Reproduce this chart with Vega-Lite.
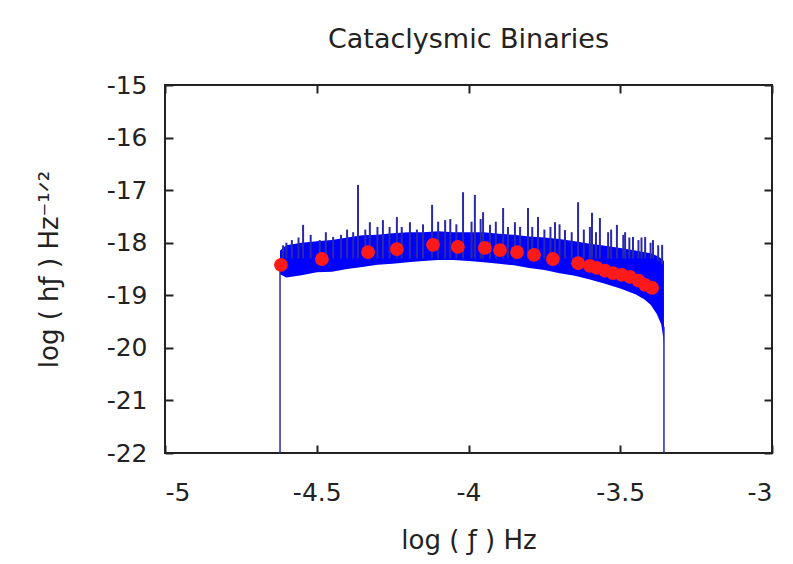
{
  "$schema": "https://vega.github.io/schema/vega-lite/v6.json",
  "width": 607,
  "height": 368,
  "autosize": {"type": "none"},
  "padding": {"left": 165, "top": 85, "right": 21, "bottom": 111},
  "background": "white",
  "title": {"text": "Cataclysmic Binaries", "font": "DejaVu Sans", "fontSize": 27, "fontWeight": "normal", "color": "#222", "offset": 19, "anchor": "middle"},
  "config": {
    "view": {"stroke": "#222", "strokeWidth": 2},
    "axis": {"domain": false, "grid": false, "ticks": true, "tickColor": "#222", "tickWidth": 2, "tickSize": -8,
      "labelFont": "DejaVu Sans", "labelFontSize": 25, "labelColor": "#222",
      "labelExpr": "toString(datum.value)",
      "titleFont": "DejaVu Sans", "titleFontSize": 26, "titleFontWeight": "normal", "titleColor": "#222"}
  },
  "datasets": {
    "band": [
      {"x": -4.621, "hi": -18.15, "lo": -18.6},
      {"x": -4.6, "hi": -18.05, "lo": -18.66},
      {"x": -4.55, "hi": -18.0, "lo": -18.62},
      {"x": -4.5, "hi": -17.97, "lo": -18.56},
      {"x": -4.45, "hi": -17.95, "lo": -18.55},
      {"x": -4.4, "hi": -17.9, "lo": -18.5},
      {"x": -4.35, "hi": -17.86, "lo": -18.46},
      {"x": -4.3, "hi": -17.85, "lo": -18.42},
      {"x": -4.25, "hi": -17.82, "lo": -18.4},
      {"x": -4.2, "hi": -17.8, "lo": -18.37},
      {"x": -4.15, "hi": -17.8, "lo": -18.35},
      {"x": -4.1, "hi": -17.78, "lo": -18.33},
      {"x": -4.05, "hi": -17.8, "lo": -18.33},
      {"x": -4.0, "hi": -17.8, "lo": -18.35},
      {"x": -3.95, "hi": -17.8, "lo": -18.37},
      {"x": -3.9, "hi": -17.83, "lo": -18.4},
      {"x": -3.85, "hi": -17.85, "lo": -18.43},
      {"x": -3.8, "hi": -17.88, "lo": -18.48},
      {"x": -3.75, "hi": -17.9, "lo": -18.52},
      {"x": -3.7, "hi": -17.93, "lo": -18.58},
      {"x": -3.65, "hi": -17.97, "lo": -18.63},
      {"x": -3.6, "hi": -18.02, "lo": -18.7},
      {"x": -3.55, "hi": -18.06, "lo": -18.78},
      {"x": -3.5, "hi": -18.1, "lo": -18.87},
      {"x": -3.45, "hi": -18.15, "lo": -18.98},
      {"x": -3.42, "hi": -18.18, "lo": -19.08},
      {"x": -3.4, "hi": -18.2, "lo": -19.18},
      {"x": -3.38, "hi": -18.25, "lo": -19.35},
      {"x": -3.365, "hi": -18.3, "lo": -19.55},
      {"x": -3.356, "hi": -18.35, "lo": -19.9}
    ],
    "spikes": [
      {"x": -4.611, "top": -18.05, "base": -18.3},
      {"x": -4.6, "top": -18.0, "base": -18.3},
      {"x": -4.582, "top": -17.95, "base": -18.3},
      {"x": -4.56, "top": -17.9, "base": -18.3},
      {"x": -4.545, "top": -17.66, "base": -18.3},
      {"x": -4.52, "top": -17.85, "base": -18.3},
      {"x": -4.49, "top": -17.95, "base": -18.3},
      {"x": -4.47, "top": -17.8, "base": -18.3},
      {"x": -4.446, "top": -17.89, "base": -18.3},
      {"x": -4.42, "top": -17.85, "base": -18.3},
      {"x": -4.4, "top": -17.75, "base": -18.3},
      {"x": -4.38, "top": -17.8, "base": -18.3},
      {"x": -4.364, "top": -16.9, "base": -18.3},
      {"x": -4.34, "top": -17.75, "base": -18.3},
      {"x": -4.325, "top": -17.61, "base": -18.3},
      {"x": -4.3, "top": -17.7, "base": -18.3},
      {"x": -4.282, "top": -17.57, "base": -18.3},
      {"x": -4.26, "top": -17.7, "base": -18.3},
      {"x": -4.236, "top": -17.51, "base": -18.3},
      {"x": -4.22, "top": -17.7, "base": -18.3},
      {"x": -4.193, "top": -17.61, "base": -18.3},
      {"x": -4.17, "top": -17.75, "base": -18.3},
      {"x": -4.15, "top": -17.65, "base": -18.3},
      {"x": -4.12, "top": -17.28, "base": -18.3},
      {"x": -4.1, "top": -17.6, "base": -18.3},
      {"x": -4.077, "top": -17.57, "base": -18.3},
      {"x": -4.06, "top": -17.55, "base": -18.3},
      {"x": -4.04, "top": -17.65, "base": -18.3},
      {"x": -4.018, "top": -17.04, "base": -18.3},
      {"x": -3.99, "top": -17.6, "base": -18.3},
      {"x": -3.979, "top": -17.09, "base": -18.3},
      {"x": -3.96, "top": -17.55, "base": -18.3},
      {"x": -3.952, "top": -17.42, "base": -18.3},
      {"x": -3.929, "top": -17.66, "base": -18.3},
      {"x": -3.91, "top": -17.6, "base": -18.3},
      {"x": -3.886, "top": -17.34, "base": -18.3},
      {"x": -3.87, "top": -17.7, "base": -18.3},
      {"x": -3.847, "top": -17.61, "base": -18.3},
      {"x": -3.83, "top": -17.7, "base": -18.3},
      {"x": -3.804, "top": -17.34, "base": -18.3},
      {"x": -3.79, "top": -17.7, "base": -18.3},
      {"x": -3.771, "top": -17.51, "base": -18.3},
      {"x": -3.75, "top": -17.75, "base": -18.3},
      {"x": -3.73, "top": -17.7, "base": -18.3},
      {"x": -3.715, "top": -17.61, "base": -18.3},
      {"x": -3.7, "top": -17.65, "base": -18.3},
      {"x": -3.682, "top": -17.76, "base": -18.3},
      {"x": -3.66, "top": -17.8, "base": -18.3},
      {"x": -3.639, "top": -17.23, "base": -18.3},
      {"x": -3.62, "top": -17.75, "base": -18.3},
      {"x": -3.6, "top": -17.7, "base": -18.3},
      {"x": -3.593, "top": -17.43, "base": -18.3},
      {"x": -3.58, "top": -17.8, "base": -18.3},
      {"x": -3.567, "top": -17.53, "base": -18.3},
      {"x": -3.54, "top": -17.8, "base": -18.3},
      {"x": -3.53, "top": -17.75, "base": -18.3},
      {"x": -3.511, "top": -17.66, "base": -18.3},
      {"x": -3.49, "top": -17.85, "base": -18.3},
      {"x": -3.484, "top": -17.8, "base": -18.3},
      {"x": -3.47, "top": -17.9, "base": -18.3},
      {"x": -3.458, "top": -17.89, "base": -18.3},
      {"x": -3.44, "top": -17.95, "base": -18.3},
      {"x": -3.43, "top": -17.9, "base": -18.3},
      {"x": -3.418, "top": -17.89, "base": -18.3},
      {"x": -3.4, "top": -18.0, "base": -18.3},
      {"x": -3.392, "top": -17.95, "base": -18.3},
      {"x": -3.375, "top": -18.05, "base": -18.35},
      {"x": -3.362, "top": -18.04, "base": -18.4}
    ],
    "edges": [
      {"x": -4.621, "y": -22, "y2": -18.3},
      {"x": -3.356, "y": -22, "y2": -19.6}
    ],
    "dots": [
      {"x": -4.618, "y": -18.42},
      {"x": -4.483, "y": -18.31},
      {"x": -4.331, "y": -18.18},
      {"x": -4.236, "y": -18.12},
      {"x": -4.117, "y": -18.04},
      {"x": -4.035, "y": -18.08},
      {"x": -3.946, "y": -18.1},
      {"x": -3.896, "y": -18.14},
      {"x": -3.84, "y": -18.18},
      {"x": -3.784, "y": -18.23},
      {"x": -3.722, "y": -18.31},
      {"x": -3.639, "y": -18.39},
      {"x": -3.6, "y": -18.44},
      {"x": -3.577, "y": -18.48},
      {"x": -3.55, "y": -18.53},
      {"x": -3.524, "y": -18.58},
      {"x": -3.495, "y": -18.61},
      {"x": -3.468, "y": -18.65},
      {"x": -3.44, "y": -18.72},
      {"x": -3.418, "y": -18.8},
      {"x": -3.395, "y": -18.86}
    ]
  },
  "layer": [
    {
      "data": {"name": "band"},
      "mark": {"type": "area", "color": "#0000ff", "opacity": 1},
      "encoding": {
        "x": {"field": "x", "type": "quantitative", "scale": {"domain": [-5, -3], "nice": false},
          "axis": {"orient": "bottom", "values": [-5, -4.5, -4, -3.5, -3], "labelPadding": 35, "title": "log ( ƒ ) Hz", "titlePadding": 22}},
        "y": {"field": "hi", "type": "quantitative", "scale": {"domain": [-22, -15], "nice": false},
          "axis": {"orient": "left", "values": [-22, -21, -20, -19, -18, -17, -16, -15], "labelPadding": 26, "title": "log ( hƒ ) Hz⁻¹ᐟ²", "titlePadding": 44}},
        "y2": {"field": "lo"}
      }
    },
    {
      "data": {"name": "spikes"},
      "mark": {"type": "rule", "color": "#2a2aa8", "strokeWidth": 2},
      "encoding": {
        "x": {"field": "x", "type": "quantitative", "axis": null},
        "y": {"field": "top", "type": "quantitative", "axis": null},
        "y2": {"field": "base"}
      }
    },
    {
      "data": {"name": "edges"},
      "mark": {"type": "rule", "color": "#2a2ab0", "strokeWidth": 1.5},
      "encoding": {
        "x": {"field": "x", "type": "quantitative", "axis": null},
        "y": {"field": "y", "type": "quantitative", "axis": null},
        "y2": {"field": "y2"}
      }
    },
    {
      "data": {"name": "dots"},
      "mark": {"type": "circle", "color": "#ff1a1a", "opacity": 1, "size": 190},
      "encoding": {
        "x": {"field": "x", "type": "quantitative",
          "axis": {"orient": "top", "values": [-5, -4.5, -4, -3.5, -3], "labels": false, "title": null}},
        "y": {"field": "y", "type": "quantitative",
          "axis": {"orient": "right", "values": [-22, -21, -20, -19, -18, -17, -16, -15], "labels": false, "title": null}}
      }
    }
  ],
  "resolve": {"axis": {"x": "independent", "y": "independent"}}
}
